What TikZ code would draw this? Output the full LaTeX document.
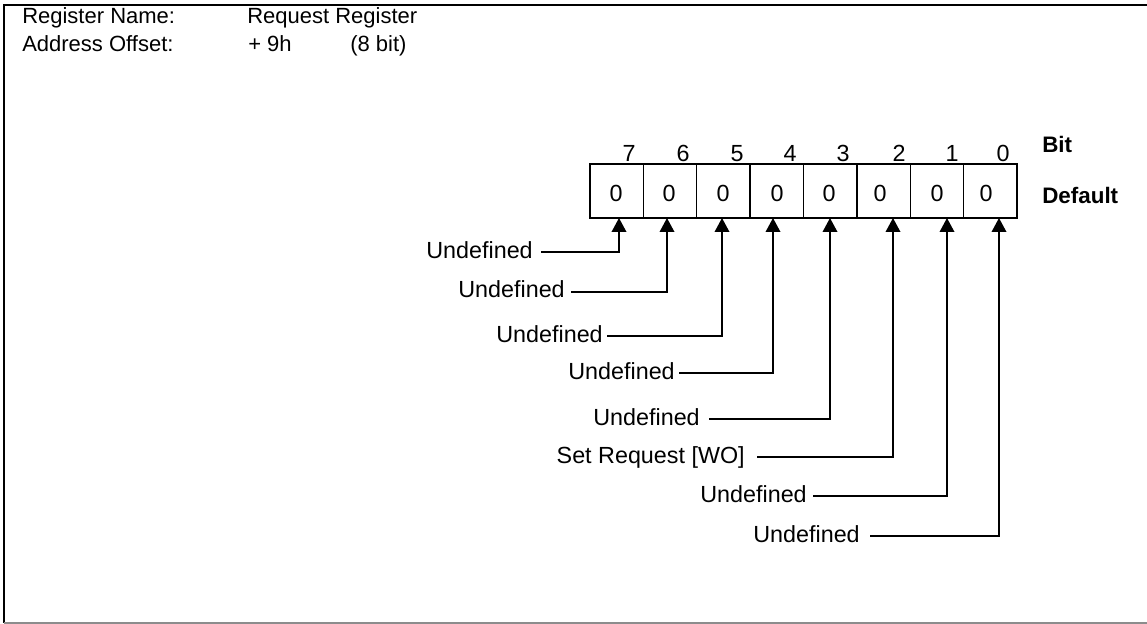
\documentclass[tikz,border=0pt]{standalone}
\usepackage{fontspec}
\setmainfont{Liberation Sans}
\usetikzlibrary{arrows.meta}
\begin{document}
\begin{tikzpicture}[x=0.75pt,y=-0.75pt,
  lbl/.style={font=\fontsize{17.5}{20}\selectfont, inner sep=0pt, anchor=base east},
  hdr/.style={font=\fontsize{16.5}{20}\selectfont, inner sep=0pt, anchor=base west},
  bitnum/.style={font=\fontsize{17.5}{20}\selectfont, inner sep=0pt, anchor=base},
  boldlbl/.style={font=\fontsize{16.8}{20}\selectfont\bfseries, inner sep=0pt, anchor=base west},
  cellbox/.style={draw, line width=1.1pt, minimum width=40.03pt, minimum height=40.5pt, inner sep=0pt},
  conn/.style={line width=1.1pt, -{Triangle[length=10.5pt,width=11pt]}},
]
\useasboundingbox (0,0) rectangle (1147,624);
% frame
\draw[line width=1.5pt] (1147,5) -- (4,5) -- (4,623);
\draw[line width=0.8pt, black!45] (4,623) -- (1147,623);

% header
\node[hdr] (hn) at (22,24) {Register Name:};
\node[hdr] (hv) at (247,24) {Request Register};
\node[hdr] (ho) at (22,52) {Address Offset:};
\node[hdr] (hov) at (248,52) {+ 9h};
\node[hdr] (hob) at (350,52) {(8 bit)};

% register cells
\foreach \b [count=\i from 0] in {7,6,5,4,3,2,1,0} {
  \node[cellbox] (c\b) at ({590+53.375*(\i+0.5)},191) {};
}
% default values
\foreach \b/\x in {7/616,6/669,5/723,4/777,3/829,2/880,1/937,0/986} {
  \node[bitnum] (v\b) at (\x,202) {0};
}
% bit numbers
\foreach \b/\x in {7/629,6/683,5/737,4/790,3/843,2/899,1/952,0/1003} {
  \node[bitnum] (n\b) at (\x,162) {\b};
}
\node[boldlbl] (bit) at (1042,153) {Bit};
\node[boldlbl] (def) at (1042,204) {Default};

% arrow tips
\foreach \b/\x in {7/619,6/667,5/722,4/773,3/830,2/893,1/947,0/999} {
  \coordinate (t\b) at (\x,218);
}

% labels and connectors
\foreach \b/\xe/\L/\g/\txt in {7/533/252/8/Undefined,6/565/292/6/Undefined,5/603/336/4/Undefined,4/675/373/4/Undefined,3/700/419/9/Undefined,2/745/457/12/{Set Request [WO]},1/807/496/6/Undefined,0/860/536/10/Undefined} {
  \node[lbl] (l\b) at (\xe,\L+6) {\txt};
  \draw[conn] (l\b.base east) ++(\g,-6) -| (t\b);
}
\end{tikzpicture}
\end{document}
